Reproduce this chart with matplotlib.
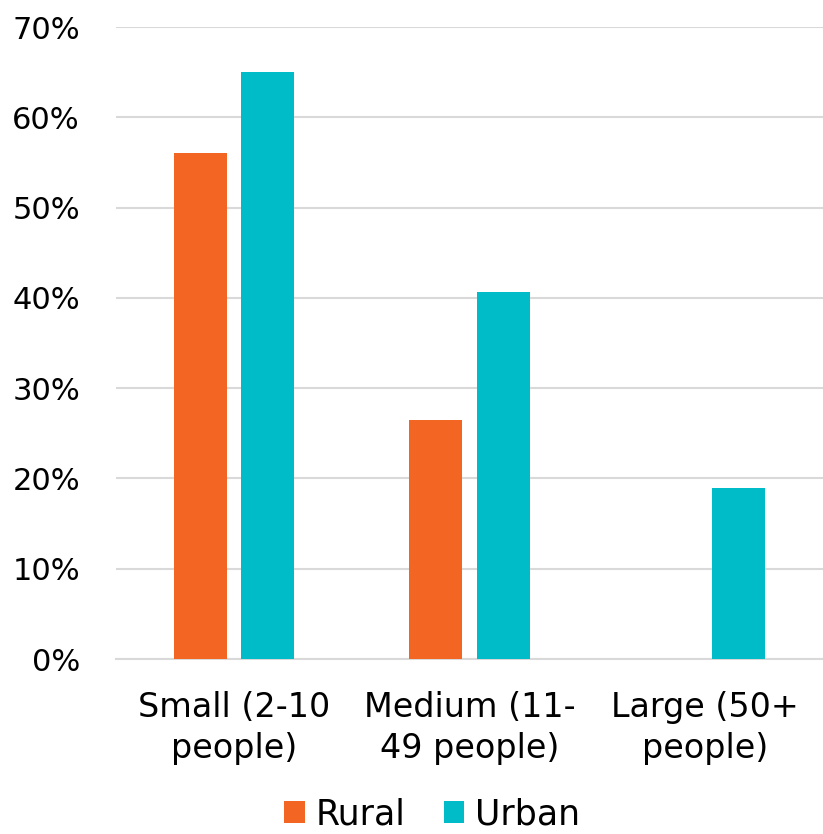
import matplotlib
matplotlib.use("Agg")
import matplotlib.pyplot as plt
import numpy as np

# Share of businesses by size, rural vs urban
categories = ["Small (2-10\npeople)", "Medium (11-\n49 people)", "Large (50+\npeople)"]
rural = [56.0, 26.5, 0.0]
urban = [65.0, 40.6, 18.9]
yticks = [0, 10, 20, 30, 40, 50, 60, 70]

orange = "#F26522"
teal = "#00BCC8"
grid_gray = "#D9D9D9"

matplotlib.rcParams.update({"font.family": "DejaVu Sans", "font.size": 22})

fig = plt.figure(figsize=(8.23, 8.34), dpi=100)
ax = fig.add_axes([0.141, 0.2098, 0.859, 0.7578])

x = np.arange(len(categories))
width = 0.225
gap = 0.06
ax.bar(x - (width + gap) / 2, rural, width, color=orange, label="Rural", zorder=3)
ax.bar(x + (width + gap) / 2, urban, width, color=teal, label="Urban", zorder=3)

ax.set_xlim(-0.5, 2.5)
ax.set_ylim(0, 70)
ax.set_yticks(yticks)
ax.set_yticklabels([f"{t}%" for t in yticks], fontsize=22)
ax.set_xticks(x)
ax.set_xticklabels(categories, linespacing=1.3, fontsize=24)

ax.yaxis.grid(True, color=grid_gray, linewidth=1.5, zorder=0)
for side in ["top", "right", "left"]:
    ax.spines[side].set_visible(False)
ax.spines["bottom"].set_color(grid_gray)
ax.spines["bottom"].set_linewidth(1.5)
ax.tick_params(axis="both", length=0, colors="black")
ax.tick_params(axis="y", pad=26)
ax.tick_params(axis="x", pad=23)

fig.legend(loc="lower center", bbox_to_anchor=(0.525, -0.018), ncol=2, frameon=False,
           fontsize=25, handlelength=0.6, handleheight=0.6, handletextpad=0.3,
           columnspacing=1.1, borderpad=0.0)

fig.savefig("out.png", dpi=100)
